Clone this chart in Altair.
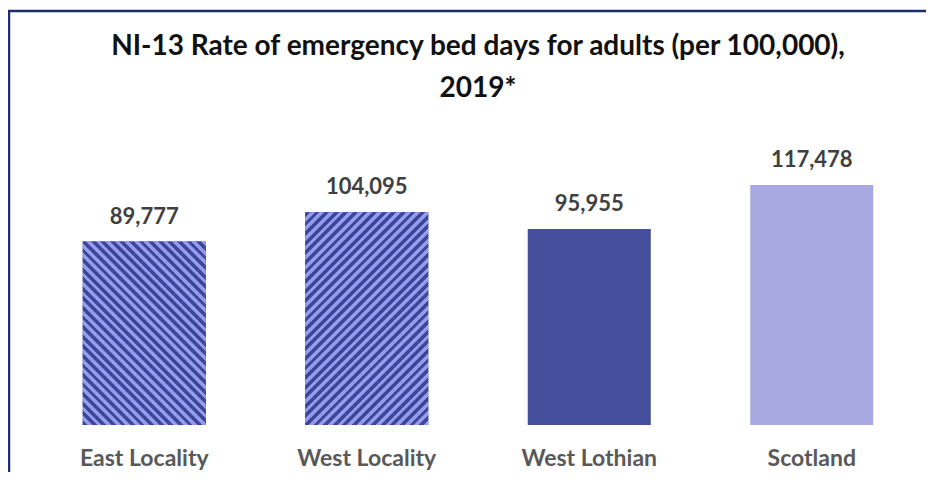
import altair as alt
import pandas as pd

categories = ["East Locality", "West Locality", "West Lothian", "Scotland"]
values = [89777, 104095, 95955, 117478]
labels = ["89,777", "104,095", "95,955", "117,478"]
base_colors = ["#414A9C", "#414A9C", "#444E9B", "#A9A9E1"]
hatch = ["back", "forward", "none", "none"]

DARK = "#3F479A"
LIGHT = "#939BEC"
FRAME = "#1B2F6E"

# layout (styles only)
VIEW_W, VIEW_H = 890, 286
Y_MAX = 140000
PAD_INNER = 0.447
STRIPE_PERIOD = 9.5
LIGHT_FRAC = 0.5

df = pd.DataFrame({"cat": categories, "val": values, "lab": labels, "hatch": hatch})

step = VIEW_W / (len(categories) - PAD_INNER + PAD_INNER)
bar_w = step * (1 - PAD_INNER)


def stripe_gradient(value, direction):
    w = bar_w
    h = value * VIEW_H / Y_MAX
    k = (w + h) / (w * w + h * h)
    n = max(1, round((w + h) / STRIPE_PERIOD))
    stops = []
    for i in range(n):
        a = i / n
        m = (i + 1 - LIGHT_FRAC) / n
        c = (i + 1) / n
        stops += [
            {"offset": a, "color": DARK},
            {"offset": m, "color": DARK},
            {"offset": m, "color": LIGHT},
            {"offset": c, "color": LIGHT},
        ]
    if direction == "back":
        x1, y1 = 0, 1
        x2, y2 = k * w, 1 - k * h
    else:
        x1, y1 = 0, 0
        x2, y2 = k * w, k * h
    return {"gradient": "linear", "x1": x1, "y1": y1, "x2": x2, "y2": y2, "stops": stops}


x_enc = alt.X(
    "cat:N",
    sort=categories,
    title=None,
    scale=alt.Scale(paddingInner=PAD_INNER, paddingOuter=PAD_INNER / 2),
    axis=alt.Axis(
        labelAngle=0,
        domain=False,
        ticks=False,
        grid=False,
        labelFont="Lato",
        labelFontSize=23,
        labelFontWeight="bold",
        labelColor="#595959",
        labelBaseline="alphabetic",
        labelPadding=40,
    ),
)
y_enc = alt.Y("val:Q", scale=alt.Scale(domain=[0, Y_MAX], nice=False), axis=None)

base = alt.Chart(df)

bars = base.mark_bar().encode(
    x=x_enc,
    y=y_enc,
    color=alt.Color("cat:N", scale=alt.Scale(domain=categories, range=base_colors), legend=None),
)

hatch_layers = []
for cat, val, hd in zip(categories, values, hatch):
    if hd == "none":
        continue
    hatch_layers.append(
        base.transform_filter(alt.datum.cat == cat)
        .mark_bar(fill=stripe_gradient(val, hd))
        .encode(x=x_enc, y=y_enc)
    )

text = base.mark_text(
    dy=-18, baseline="alphabetic", font="Lato", fontSize=22, fontWeight="bold", color="#404040"
).encode(x=x_enc, y=y_enc, text="lab:N")

frame = (
    alt.Chart(pd.DataFrame({"f": [0]}))
    .mark_rect(fill="transparent", stroke=FRAME, strokeWidth=2.5)
    .encode(x=alt.value(-24), x2=alt.value(1500), y=alt.value(-128), y2=alt.value(1500))
)

chart = (
    alt.layer(bars, *hatch_layers, text, frame)
    .properties(
        width=VIEW_W,
        height=VIEW_H,
        autosize=alt.AutoSizeParams(type="none"),
        padding={"left": 25, "top": 131, "right": 3, "bottom": 47},
        background="white",
        title=alt.TitleParams(
            text=["NI-13 Rate of emergency bed days for adults (per 100,000),", "2019*"],
            font="Lato",
            fontSize=28,
            fontWeight="bold",
            color="#111111",
            anchor="middle",
            frame="group",
            offset=-93,
            lineHeight=42,
        ),
    )
    .configure_view(stroke=None)
)

chart.save("out.html", embed_options={"renderer": "svg", "actions": False})
